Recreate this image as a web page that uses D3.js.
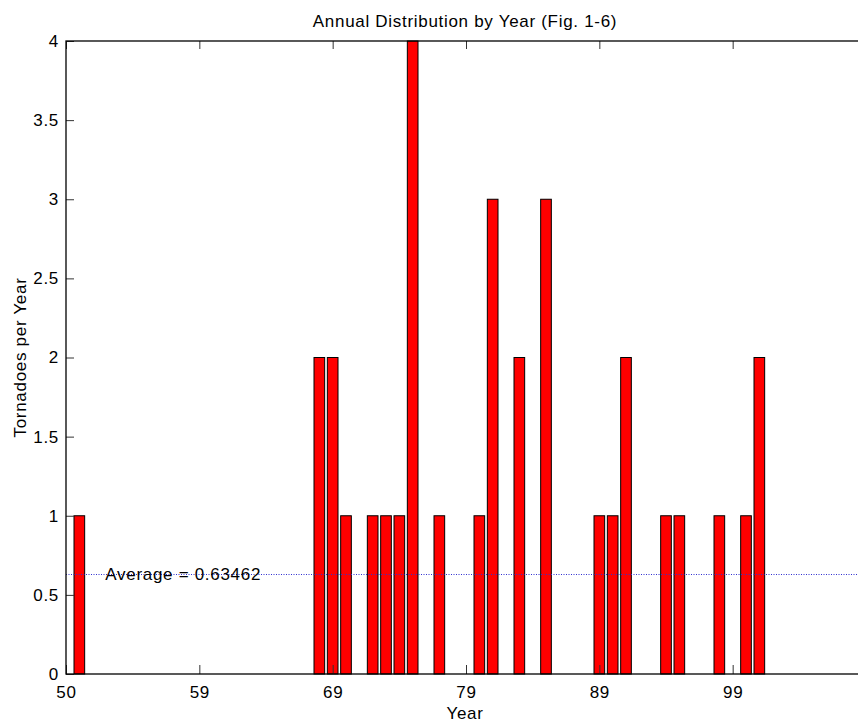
<!DOCTYPE html>
<html lang="en">
<head>
<meta charset="utf-8">
<script src="https://cdn.jsdelivr.net/npm/d3@7"></script>
<style>
  body { margin: 0; background: #fff; }
  text { font-family: "Liberation Sans", Arial, sans-serif; fill: #000; }
</style>
</head>
<body>
<script>
// year slot (0 = "50" tick) and tornado count for every year that had one
var yearIndex = [1, 19, 20, 21, 23, 24, 25, 26, 28, 31, 32, 34, 36, 40, 41, 42, 45, 46, 49, 51, 52];
var tornadoes = [1, 2, 2, 1, 1, 1, 1, 4, 1, 1, 3, 2, 3, 1, 1, 2, 1, 1, 1, 1, 2];
var xTickValues = [0, 10, 20, 30, 40, 50];
var xTickLabels = ["50", "59", "69", "79", "89", "99"];
var yTickValues = [0, 0.5, 1, 1.5, 2, 2.5, 3, 3.5, 4];
var average = 0.63462;

var w = 858, h = 723;
var mLeft = 66, mTop = 41, plotW = 800, plotH = 633;

var svg = d3.select("body").append("svg")
  .attr("width", w).attr("height", h);

var x = d3.scaleLinear().domain([0, 60]).range([mLeft, mLeft + plotW]);
var y = d3.scaleLinear().domain([0, 4]).range([mTop + plotH, mTop]);
var barW = x(0.8) - x(0);

var fs = "17px", ls = "0.7px";

// bars
svg.selectAll("rect.bar")
  .data(yearIndex)
  .enter().append("rect")
  .attr("class", "bar")
  .attr("x", function(d) { return x(d) - barW / 2; })
  .attr("y", function(d, i) { return y(tornadoes[i]); })
  .attr("width", barW)
  .attr("height", function(d, i) { return y(0) - y(tornadoes[i]); })
  .attr("fill", "#ff0000")
  .attr("stroke", "#000")
  .attr("stroke-width", 1);

// average line
svg.append("line")
  .attr("x1", x(0)).attr("x2", x(60))
  .attr("y1", Math.round(y(average)) + 0.5).attr("y2", Math.round(y(average)) + 0.5)
  .attr("stroke", "#3030d0")
  .attr("stroke-width", 1)
  .attr("stroke-dasharray", "1,1.5");

svg.append("text")
  .attr("x", x(2.95)).attr("y", y(average))
  .attr("dy", "0.37em")
  .style("font-size", fs).style("letter-spacing", ls)
  .text("Average = " + average);

// axes, ticks inside the box
function styleAxis(g) {
  g.select(".domain").remove();
  g.selectAll(".tick line").attr("stroke", "#333").attr("stroke-width", 1);
  g.selectAll(".tick text")
    .style("font-family", "Liberation Sans, Arial, sans-serif")
    .style("font-size", fs).style("letter-spacing", ls).attr("fill", "#000");
}

svg.append("g")
  .attr("transform", "translate(0," + y(0) + ")")
  .call(d3.axisBottom(x).tickValues(xTickValues)
    .tickFormat(function(d, i) { return xTickLabels[i]; })
    .tickSizeInner(-9).tickSizeOuter(0).tickPadding(12))
  .call(styleAxis);

svg.append("g")
  .attr("transform", "translate(0," + y(4) + ")")
  .call(d3.axisTop(x).tickValues(xTickValues).tickFormat("")
    .tickSizeInner(-8).tickSizeOuter(0))
  .call(styleAxis);

svg.append("g")
  .attr("transform", "translate(" + x(0) + ",0)")
  .call(d3.axisLeft(y).tickValues(yTickValues)
    .tickFormat(function(d) { return String(d); })
    .tickSizeInner(-8).tickSizeOuter(0).tickPadding(7))
  .call(styleAxis);

svg.append("g")
  .attr("transform", "translate(" + x(60) + ",0)")
  .call(d3.axisRight(y).tickValues(yTickValues).tickFormat("")
    .tickSizeInner(-8).tickSizeOuter(0))
  .call(styleAxis);

// box
svg.append("rect")
  .attr("x", x(0)).attr("y", y(4))
  .attr("width", x(60) - x(0)).attr("height", y(0) - y(4))
  .attr("fill", "none")
  .attr("stroke", "#000")
  .attr("stroke-width", 1.3);

// titles
svg.append("text")
  .attr("x", mLeft + plotW / 2 - 1).attr("y", 27)
  .attr("text-anchor", "middle")
  .style("font-size", fs).style("letter-spacing", ls)
  .text("Annual Distribution by Year (Fig. 1-6)");

svg.append("text")
  .attr("x", mLeft + plotW / 2 - 1).attr("y", 719)
  .attr("text-anchor", "middle")
  .style("font-size", fs).style("letter-spacing", ls)
  .text("Year");

svg.append("text")
  .attr("transform", "translate(26," + (mTop + plotH / 2) + ") rotate(-90)")
  .attr("text-anchor", "middle")
  .style("font-size", fs).style("letter-spacing", ls)
  .text("Tornadoes per Year");
</script>
</body>
</html>
